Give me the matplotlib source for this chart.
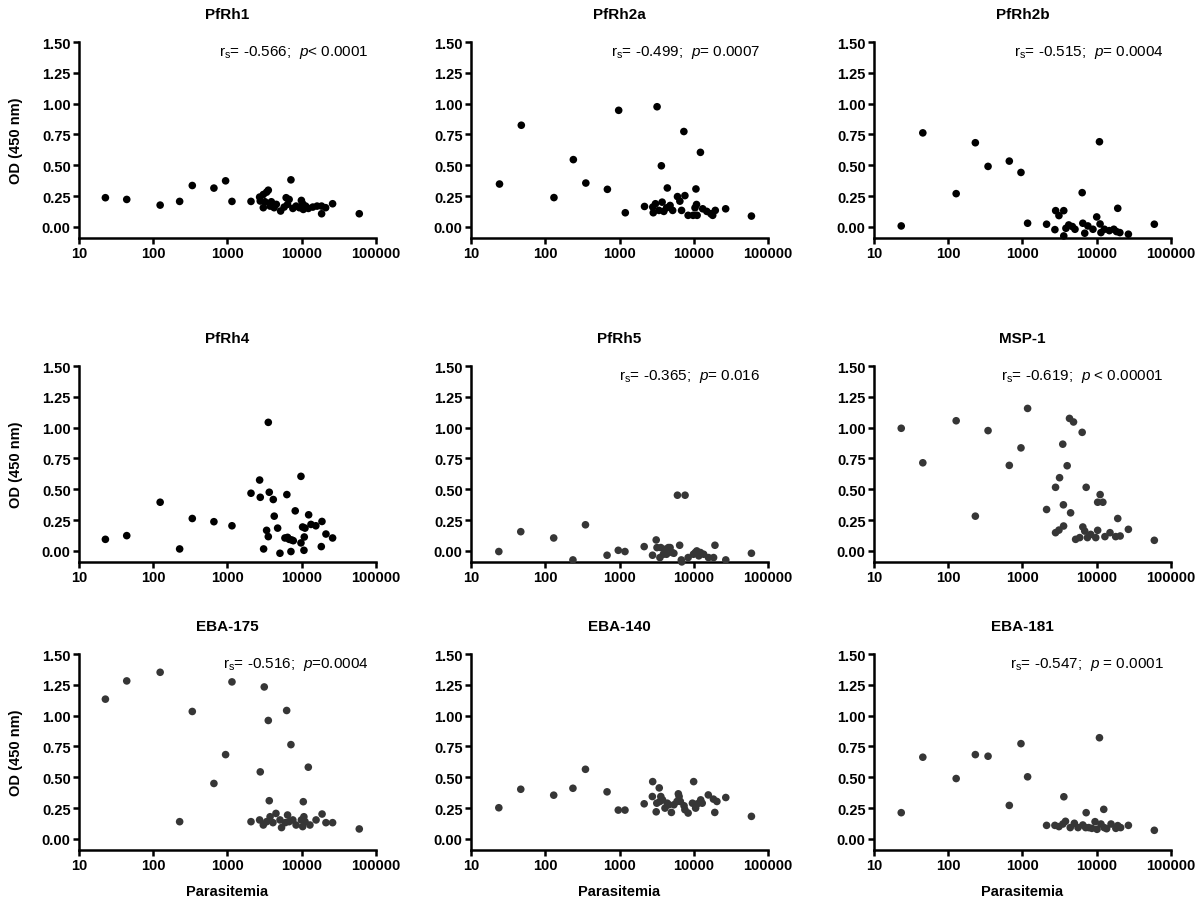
import matplotlib.pyplot as plt
from matplotlib.ticker import FixedLocator, FixedFormatter, NullLocator

plt.rcParams['font.family'] = ['Liberation Sans', 'DejaVu Sans']
plt.rcParams['mathtext.fontset'] = 'custom'
plt.rcParams['mathtext.rm'] = 'Liberation Sans'
plt.rcParams['mathtext.it'] = 'Liberation Sans:italic'
plt.rcParams['mathtext.default'] = 'regular'

# parasitemia (x) and OD 450 nm (y) read per panel
pfrh1_x = [22.7, 44, 124, 227, 336, 657, 944, 1150, 2075, 2712, 2766, 3040, 3367, 3548, 3040,
           3200, 3750, 3900, 4250, 4550, 5200, 5800, 6170, 6450, 6770, 7160, 7600, 8400,
           9300, 9900, 10300, 10500, 11300, 12300, 14100, 16100, 18540, 18500, 21000, 26060, 59600]
pfrh1_y = [0.237, 0.223, 0.177, 0.207, 0.336, 0.315, 0.374, 0.207, 0.207, 0.242, 0.21, 0.263, 0.282, 0.298, 0.156,
           0.204, 0.169, 0.204, 0.156, 0.183, 0.129, 0.161, 0.237, 0.183, 0.223, 0.382, 0.15, 0.169,
           0.156, 0.215, 0.188, 0.142, 0.169, 0.15, 0.161, 0.169, 0.107, 0.169, 0.156, 0.188, 0.107]

pfrh2a_x = [24.2, 47.6, 131, 239, 352, 687, 975, 1197, 2172, 2806, 2850, 3050, 3206, 3400, 3663,
            3750, 3950, 4300, 4406, 4800, 5200, 6040, 6500, 6850, 7360, 7600, 8400, 9800,
            10400, 10700, 10900, 11100, 12300, 13200, 15000, 17000, 18000, 19500, 26900, 59800]
pfrh2a_y = [0.348, 0.825, 0.238, 0.546, 0.356, 0.305, 0.946, 0.115, 0.166, 0.161, 0.115, 0.188, 0.975, 0.134, 0.496,
            0.201, 0.126, 0.155, 0.316, 0.174, 0.134, 0.246, 0.209, 0.134, 0.774, 0.254, 0.094, 0.094,
            0.155, 0.308, 0.182, 0.094, 0.605, 0.147, 0.126, 0.107, 0.094, 0.134, 0.147, 0.088]

pfrh2b_x = [23.3, 45.5, 128, 232, 344, 665, 955, 1173, 2113, 2735, 2800, 3100, 3600, 3600, 3850,
            4200, 4700, 5100, 6370, 6500, 6900, 7600, 8900, 10000, 10890, 11100, 11400, 12700,
            14800, 17000, 19200, 18500, 20500, 26700, 59700]
pfrh2b_y = [0.008, 0.763, 0.27, 0.683, 0.491, 0.534, 0.442, 0.03, 0.022, -0.022, 0.132, 0.092, 0.132, -0.073, -0.011,
            0.016, 0.003, -0.019, 0.278, 0.03, -0.051, 0.008, -0.019, 0.081, 0.691, 0.024, -0.046, -0.019,
            -0.03, -0.019, 0.151, -0.038, -0.046, -0.059, 0.022]

pfrh4_x = [22.7, 44, 124, 227, 336, 657, 1150, 2075, 2712, 2766, 3069, 3367, 3548, 3656, 3548,
           4140, 4266, 4740, 5093, 5945, 6310, 6450, 6770, 7160, 7310, 7700, 8180, 9770,
           9770, 10280, 10720, 10830, 11070, 12400, 13330, 15500, 18740, 18350, 21210, 26060]
pfrh4_y = [0.094, 0.124, 0.395, 0.016, 0.263, 0.237, 0.204, 0.468, 0.575, 0.435, 0.016, 0.167, 0.116, 0.476, 1.043,
           0.417, 0.282, 0.185, -0.019, 0.105, 0.457, 0.11, 0.094, -0.005, 0.089, 0.083, 0.325, 0.065,
           0.605, 0.194, 0.005, 0.113, 0.185, 0.293, 0.215, 0.204, 0.239, 0.035, 0.137, 0.105]

pfrh5_x = [23.7, 46.8, 130, 236, 348, 680, 963, 1185, 2150, 2785, 3120, 3200, 3500, 3600, 3900,
           4100, 4300, 4550, 4800, 5100, 5400, 6030, 6460, 6800, 6900, 7640, 8400, 9900,
           10500, 11000, 11700, 12300, 13600, 15800, 18500, 19300, 27000, 59800]
pfrh5_y = [-0.005, 0.156, 0.105, -0.073, 0.212, -0.035, 0.005, -0.005, 0.035, -0.035, 0.089, 0.027, -0.054, 0.027, -0.027,
           0.013, -0.027, 0.027, 0.027, -0.013, -0.019, 0.452, 0.046, -0.073, -0.089, 0.452, -0.054, -0.027,
           -0.013, 0.0, -0.04, -0.013, -0.027, -0.054, -0.054, 0.046, -0.073, -0.019]

msp1_x = [23.3, 45.5, 128, 232, 344, 665, 955, 1173, 2113, 2790, 2790, 3100, 3160, 3490, 3560,
          3580, 4000, 4450, 4300, 4870, 5200, 5900, 6370, 6500, 6900, 7210, 7500, 8300,
          9700, 10300, 11120, 10300, 12100, 12900, 15100, 18000, 19200, 20700, 26700, 59700]
msp1_y = [0.995, 0.715, 1.056, 0.282, 0.976, 0.694, 0.836, 1.156, 0.336, 0.516, 0.148, 0.169, 0.594, 0.866, 0.374,
          0.202, 0.691, 0.309, 1.075, 1.046, 0.094, 0.108, 0.962, 0.194, 0.161, 0.516, 0.108, 0.134,
          0.108, 0.167, 0.457, 0.395, 0.395, 0.116, 0.148, 0.116, 0.263, 0.121, 0.175, 0.086]

eba175_x = [22.7, 44, 124, 227, 336, 657, 944, 1150, 2075, 2712, 2766, 3040, 3130, 3367, 3548,
            3656, 3750, 4100, 4500, 5100, 5350, 6000, 6270, 6450, 6770, 7160, 7600, 8400,
            9900, 10300, 10500, 10700, 11100, 12270, 12900, 15600, 18800, 21200, 26060, 59600]
eba175_y = [1.134, 1.282, 1.352, 0.14, 1.034, 0.45, 0.684, 1.274, 0.14, 0.154, 0.544, 0.113, 1.233, 0.14, 0.961,
            0.31, 0.18, 0.132, 0.207, 0.154, 0.092, 0.132, 1.042, 0.194, 0.14, 0.765, 0.154, 0.113,
            0.154, 0.1, 0.302, 0.18, 0.14, 0.582, 0.113, 0.154, 0.202, 0.132, 0.132, 0.081]

eba140_x = [23.7, 46.8, 130, 236, 348, 680, 963, 1185, 2150, 2800, 2770, 3120, 3180, 3500, 3430,
            3600, 3800, 4100, 4400, 4600, 5000, 5400, 5950, 6200, 6350, 6600, 7400, 7600,
            8400, 9600, 9970, 10600, 11200, 12400, 13000, 15700, 18400, 19200, 20500, 27000, 59800]
eba140_y = [0.253, 0.403, 0.355, 0.411, 0.565, 0.382, 0.234, 0.234, 0.285, 0.465, 0.344, 0.22, 0.29, 0.304, 0.414,
            0.344, 0.317, 0.25, 0.29, 0.277, 0.215, 0.277, 0.304, 0.366, 0.344, 0.304, 0.269, 0.237,
            0.21, 0.29, 0.465, 0.25, 0.285, 0.317, 0.29, 0.357, 0.323, 0.215, 0.304, 0.336, 0.183]

eba181_x = [23.3, 45.5, 128, 232, 344, 665, 955, 1173, 2113, 2735, 3100, 3500, 3610, 3800, 4400,
            5000, 5600, 6500, 7100, 7210, 7800, 8600, 9500, 10100, 10890, 11400, 12600, 12440,
            13600, 15600, 18100, 19200, 21000, 26700, 59700]
eba181_y = [0.213, 0.663, 0.49, 0.684, 0.671, 0.272, 0.773, 0.504, 0.11, 0.11, 0.1, 0.121, 0.342, 0.143, 0.092,
            0.127, 0.092, 0.113, 0.092, 0.213, 0.092, 0.086, 0.14, 0.078, 0.821, 0.121, 0.092, 0.24,
            0.083, 0.121, 0.086, 0.108, 0.092, 0.11, 0.07]

titles = ['PfRh1', 'PfRh2a', 'PfRh2b', 'PfRh4', 'PfRh5', 'MSP-1', 'EBA-175', 'EBA-140', 'EBA-181']
xs = [pfrh1_x, pfrh2a_x, pfrh2b_x, pfrh4_x, pfrh5_x, msp1_x, eba175_x, eba140_x, eba181_x]
ys = [pfrh1_y, pfrh2a_y, pfrh2b_y, pfrh4_y, pfrh5_y, msp1_y, eba175_y, eba140_y, eba181_y]
stats = [r'r$_s$= -0.566;  $\it{p}$< 0.0001',
         r'r$_s$= -0.499;  $\it{p}$= 0.0007',
         r'r$_s$= -0.515;  $\it{p}$= 0.0004',
         None,
         r'r$_s$= -0.365;  $\it{p}$= 0.016',
         r'r$_s$= -0.619;  $\it{p}$ < 0.00001',
         r'r$_s$= -0.516;  $\it{p}$=0.0004',
         None,
         r'r$_s$= -0.547;  $\it{p}$ = 0.0001']
dot_colors = ['#000000'] * 4 + ['#363636'] * 5

fig = plt.figure(figsize=(12, 9.04), dpi=100)
lefts = [0.0658, 0.3925, 0.7283]
bottoms = [0.7356, 0.3772, 0.0586]
w, h = 0.2475, 0.2168

for i in range(9):
    r, c = divmod(i, 3)
    ax = fig.add_axes([lefts[c], bottoms[r], w, h])
    ax.scatter(xs[i], ys[i], s=30, color=dot_colors[i], edgecolors='none', clip_on=False, zorder=3)
    ax.set_xscale('log')
    ax.set_xlim(10, 100000)
    ax.set_ylim(-0.09, 1.5)
    ax.xaxis.set_major_locator(FixedLocator([10, 100, 1000, 10000, 100000]))
    ax.xaxis.set_major_formatter(FixedFormatter(['10', '100', '1000', '10000', '100000']))
    ax.xaxis.set_minor_locator(NullLocator())
    ax.set_yticks([0, 0.25, 0.5, 0.75, 1.0, 1.25, 1.5])
    ax.set_yticklabels(['0.00', '0.25', '0.50', '0.75', '1.00', '1.25', '1.50'])
    for s in ['top', 'right']:
        ax.spines[s].set_visible(False)
    for s in ['left', 'bottom']:
        ax.spines[s].set_linewidth(1.8)
    ax.tick_params(length=4, width=1.8, labelsize=10.5, pad=2)
    for lab in ax.get_xticklabels() + ax.get_yticklabels():
        lab.set_fontweight('bold')
    ax.set_title(titles[i], fontsize=11, fontweight='bold', pad=17)
    if stats[i]:
        ax.text(0.975, 0.95, stats[i], transform=ax.transAxes, ha='right', va='center', fontsize=11)
    if c == 0:
        ax.set_ylabel('OD (450 nm)', fontsize=10.5, fontweight='bold')
        ax.yaxis.set_label_coords(-0.19, 0.5)
    if r == 2:
        ax.set_xlabel('Parasitemia', fontsize=10.5, fontweight='bold')
        ax.xaxis.set_label_coords(0.5, -0.175)

plt.savefig('out.png', dpi=100)
